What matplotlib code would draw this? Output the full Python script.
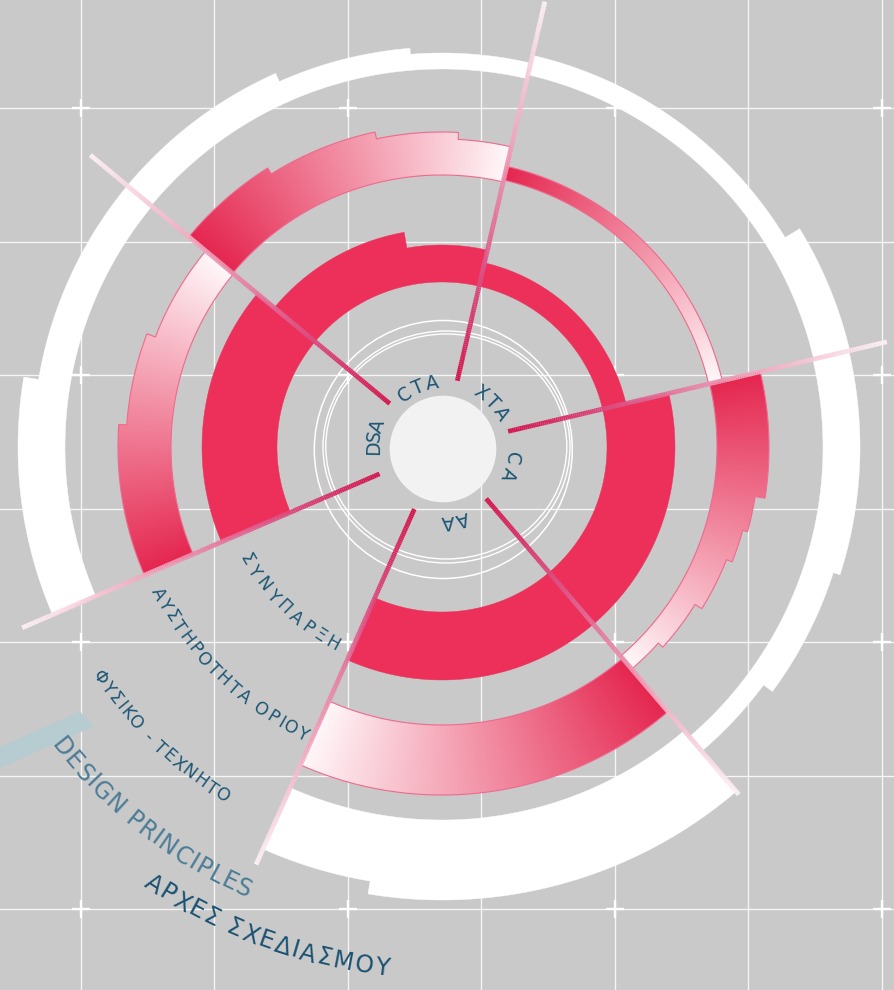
import numpy as np
import matplotlib
matplotlib.use("Agg")
import matplotlib.pyplot as plt
from matplotlib.patches import Polygon, Circle, Ellipse
from matplotlib.collections import LineCollection
from matplotlib.font_manager import FontProperties, findfont, get_font
from matplotlib.colors import to_rgb

# ------------------------------------------------------------------ data
sectors = ["DSA", "CTA", "XTA", "CA", "AA"]
sector_span = {"DSA": (140.3, 203.3), "CTA": (77.0, 140.3), "XTA": (13.3, 77.0),
               "CA": (-49.5, 13.3), "AA": (-114.0, -49.5)}
spoke_angles = [140.3, 77.0, 13.3, -49.5, -114.0, -156.7]

# ring 1 (solid red): inner radius, step breaks (deg) and outer-radius values
core_inner = {"DSA": 165, "CTA": 165, "XTA": 165, "CA": 165, "AA": 165}
core_breaks = {"DSA": [], "CTA": [100.0], "XTA": [], "CA": [], "AA": []}
core_values = {"DSA": [240], "CTA": [202, 218], "XTA": [189], "CA": [233], "AA": [233]}

# ring 2 (gradient)
grad_inner = {"DSA": 271, "CTA": 272, "XTA": 274, "CA": 275, "AA": 278}
grad_breaks = {"DSA": [159.0, 176.0], "CTA": [87.0, 102.0, 122.0], "XTA": [],
               "CA": [-42.2, -31.9, -21.6, -15.5, -9.0], "AA": []}
grad_values = {"DSA": [307, 316, 324], "CTA": [308, 315, 322, 329], "XTA": [288],
               "CA": [292, 298, 306, 312, 317, 327], "AA": [348]}

# ring 3 (white)
white_inner = {"DSA": 377, "CTA": 378, "XTA": 382, "CA": 381, "AA": 373}
white_breaks = {"DSA": [170.5], "CTA": [94.6, 114.0], "XTA": [31.4],
                "CA": [-36.5, -17.8], "AA": [-99.4]}
white_values = {"DSA": [409, 424], "CTA": [394, 400, 409], "XTA": [419, 402],
                "CA": [400, 411, 418], "AA": [440, 453]}

# inner labels: (first char angle, last char angle, radius)
label_geom = {"DSA": (179.0, 160.5, 71), "CTA": (125.0, 99.5, 68),
              "XTA": (56.5, 31.5, 69), "CA": (-7.5, -21.0, 70.5),
              "AA": (-74.5, -86.0, 73)}

principles = ["ΣΥΝΥΠΑΡΞΗ", "ΑΥΣΤΗΡΟΤΗΤΑ ΟΡΙΟΥ", "ΦΥΣΙΚΟ - ΤΕΧΝΗΤΟ"]
principle_geom = [(-150.1, -119.0, 224), (-152.6, -115.8, 318), (-146.0, -122.2, 411)]
title_en = "DESIGN PRINCIPLES"
title_gr = "ΑΡΧΕΣ ΣΧΕΔΙΑΣΜΟΥ"

# ------------------------------------------------------------------ layout
W, H, DPI = 895, 990, 100
CX, CY = 442.0, H - 447.0          # ring centre (y up)
LX, LY = 443.0, H - 449.0          # hub centre
BG = "#C9C9C9"
RED = "#EC305A"
DEEP = np.array(to_rgb("#E5264F"))
LIGHT = np.array(to_rgb("#FFF8FA"))
TXT = "#1C5675"
FONT = "DejaVu Sans"

fig = plt.figure(figsize=(W / DPI, H / DPI), dpi=DPI)
fig.patch.set_facecolor(BG)
ax = fig.add_axes([0, 0, 1, 1])
ax.set_facecolor(BG)
ax.axis("off")

# grid
for k in range(7):
    x = 80.7 + 133.55 * k
    y = H - (108.3 + 133.5 * k)
    ax.axvline(x, color="white", lw=0.95, alpha=0.85, zorder=1)
    ax.axhline(y, color="white", lw=0.95, alpha=0.85, zorder=1)
for i in range(0, 7, 2):
    for j in range(0, 7, 2):
        x = 80.7 + 133.55 * i
        y = H - (108.3 + 133.5 * j)
        ax.plot([x - 9, x + 9], [y, y], color="white", lw=1.7, zorder=1.1,
                solid_capstyle="butt")
        ax.plot([x, x], [y - 9, y + 9], color="white", lw=1.7, zorder=1.1,
                solid_capstyle="butt")

# pale blue bar
bar = [(0, 746.7), (80, 711.7), (94, 726.0), (0, 768.3)]
ax.add_patch(Polygon([(x, H - y) for x, y in bar], closed=True,
                     facecolor="#B6CCD1", edgecolor="none", zorder=1.5))


def ring_polygon(r_in, a_lo, a_hi, breaks, values, step=0.4):
    edges = [a_lo] + list(breaks) + [a_hi]
    pts = []
    for i, r in enumerate(values):
        a0, a1 = edges[i], edges[i + 1]
        n = max(2, int(abs(a1 - a0) / step) + 1)
        th = np.radians(np.linspace(a0, a1, n))
        pts.append(np.column_stack([CX + r * np.cos(th), CY + r * np.sin(th)]))
    n = max(2, int(abs(a_hi - a_lo) / step) + 1)
    th = np.radians(np.linspace(a_hi, a_lo, n))
    pts.append(np.column_stack([CX + r_in * np.cos(th), CY + r_in * np.sin(th)]))
    return np.vstack(pts)


# white rings
for s in sectors:
    a0, a1 = sector_span[s]
    xy = ring_polygon(white_inner[s], a0, a1, white_breaks[s], white_values[s])
    ax.add_patch(Polygon(xy, closed=True, facecolor="white", edgecolor="white",
                         lw=0.3, zorder=2))

# gradient rings
xs = np.arange(W) + 0.5
ys = np.arange(H) + 0.5
XX, YY = np.meshgrid(xs, ys)
ANG = np.degrees(np.arctan2(YY - CY, XX - CX))
for s in sectors:
    a0, a1 = sector_span[s]
    xy = ring_polygon(grad_inner[s], a0, a1, grad_breaks[s], grad_values[s])
    t = np.clip(((ANG - a0) % 360.0) / (a1 - a0), 0, 1)
    w = (1 - t)
    rgb = DEEP[None, None, :] * (1 - w[..., None]) + LIGHT[None, None, :] * w[..., None]
    clip = Polygon(xy, closed=True, facecolor="none", edgecolor="#EF6A8D",
                   lw=0.8, zorder=3.1)
    ax.add_patch(clip)
    im = ax.imshow(rgb, extent=(0, W, 0, H), origin="lower",
                   interpolation="bilinear", zorder=3)
    im.set_clip_path(clip)

# solid inner ring
for s in sectors:
    a0, a1 = sector_span[s]
    xy = ring_polygon(core_inner[s], a0, a1, core_breaks[s], core_values[s])
    ax.add_patch(Polygon(xy, closed=True, facecolor=RED, edgecolor=RED,
                         lw=0.3, zorder=3))

# thin circles and hub
ax.add_patch(Circle((443.3, H - 449.5), 129, fill=False, ec="white", lw=1.1, zorder=4))
ax.add_patch(Ellipse((446.5, H - 447.0), 247, 232, fill=False, ec="white", lw=1.0, zorder=4))
ax.add_patch(Ellipse((446.3, H - 446.5), 241, 225, fill=False, ec="white", lw=1.0, zorder=4))
ax.add_patch(Circle((LX, LY), 53.3, facecolor="#F2F2F2", edgecolor="none", zorder=4))

# spokes
stops_t = [0.0, 0.3, 0.6, 0.85, 1.0]
stops_c = [to_rgb(c) for c in ["#D3124B", "#DC5587", "#EE9DB6", "#F8D4DF", "#FDF3F6"]]
for a in spoke_angles:
    rr = np.linspace(68, 457, 200)
    th = np.radians(a)
    px = CX + rr * np.cos(th)
    py = CY + rr * np.sin(th)
    segs = np.stack([np.column_stack([px[:-1], py[:-1]]),
                     np.column_stack([px[1:], py[1:]])], axis=1)
    tm = ((rr[:-1] + rr[1:]) / 2 - 68) / (457 - 68)
    cols = np.column_stack([np.interp(tm, stops_t, [c[k] for c in stops_c]) for k in range(3)])
    ax.add_collection(LineCollection(segs, colors=cols, linewidths=3.4,
                                     capstyle="butt", zorder=5))


def arc_text(s, cx, cy, a_first, a_last, r_mid, size, color, tops_out, alpha=1.0):
    fp = FontProperties(family=FONT, size=size)
    font = get_font(findfont(fp))
    font.set_size(size, DPI)
    adv = np.array([font.load_char(ord(ch)).linearHoriAdvance / 65536 for ch in s])
    centers = np.cumsum(adv) - adv / 2
    n = len(s)
    L = r_mid * np.radians(abs(a_last - a_first))
    track = (L - (centers[-1] - centers[0])) / (n - 1)
    pos = centers - centers[0] + np.arange(n) * track
    cap = 0.73 * size * DPI / 72
    sign = 1 if a_last > a_first else -1
    for ch, p in zip(s, pos):
        if ch == " ":
            continue
        th = a_first + sign * np.degrees(p / r_mid)
        if tops_out:
            rb, rot = r_mid - cap / 2, th - 90
        else:
            rb, rot = r_mid + cap / 2, th + 90
        ax.text(cx + rb * np.cos(np.radians(th)), cy + rb * np.sin(np.radians(th)), ch,
                rotation=rot, rotation_mode="anchor", ha="center", va="baseline",
                fontproperties=fp, color=color, alpha=alpha, zorder=6)


for s in sectors:
    a_f, a_l, r = label_geom[s]
    arc_text(s, LX, LY, a_f, a_l, r, 13.5, TXT, True)

for s, (a_f, a_l, r) in zip(principles, principle_geom):
    arc_text(s, CX, CY, a_f, a_l, r, 12.5, TXT, False)

arc_text(title_en, CX, CY, -141.6, -114.2, 483, 17, "#4C7C96", False)
arc_text(title_gr, CX, CY, -123.4, -96.6, 523, 17, "#1A5272", False)

ax.set_xlim(0, W)
ax.set_ylim(0, H)
ax.set_aspect("auto")
fig.savefig("out.png", dpi=DPI, facecolor=BG)
